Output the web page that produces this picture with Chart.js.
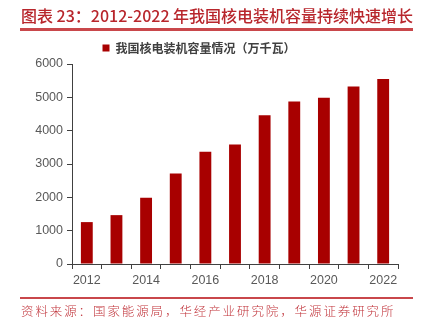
<!DOCTYPE html>
<html lang="zh">
<head>
    <meta charset="UTF-8">
    <title>核电装机容量</title>
    <style>
        body { margin: 0; width: 429px; height: 329px; background: #fff; position: relative; overflow: hidden; }
        .chart-box { position: absolute; left: 0; top: 0; width: 429px; height: 329px; }
        .title {
            position: absolute; left: 21px; top: 4px; height: 22px; z-index: 2;
            font-family: "Noto Sans CJK SC", sans-serif; font-size: 16px; font-weight: 500;
            color: #b8262c; white-space: nowrap; line-height: 22px;
        }
        .source {
            position: absolute; left: 21px; top: 302px; z-index: 2;
            font-family: "Noto Sans CJK SC", sans-serif; line-height: 18px;
            font-size: 12.5px; font-weight: 300; color: #c0333a; letter-spacing: 1.9px; white-space: nowrap;
        }
    </style>
    <script src="https://cdn.jsdelivr.net/npm/chart.js"></script>
</head>
<body>
    <div class="chart-box"><canvas id="barChart"></canvas></div>
    <div class="title">图表 23：2012-2022 年我国核电装机容量持续快速增长</div>
    <div class="source">资料来源：国家能源局，华经产业研究院，华源证券研究所</div>

    <script>
        // data
        const years = ['2012', '2013', '2014', '2015', '2016', '2017', '2018', '2019', '2020', '2021', '2022'];
        const capacity = [1257, 1466, 1988, 2717, 3364, 3582, 4466, 4874, 4989, 5326, 5553];
        const seriesName = '我国核电装机容量情况（万千瓦）';

        // red rules under the title and above the source line
        const rules = {
            id: 'rules',
            afterDraw(chart) {
                const c = chart.ctx;
                c.save();
                c.fillStyle = '#c9474b';
                c.fillRect(20, 28, 393, 3);
                c.fillRect(20, 297, 393, 2);
                c.restore();
            }
        };

        const ctx = document.getElementById('barChart').getContext('2d');
        new Chart(ctx, {
            type: 'bar',
            data: {
                labels: years,
                datasets: [{
                    label: seriesName,
                    data: capacity,
                    backgroundColor: '#a80000',
                    barPercentage: 0.8,
                    categoryPercentage: 0.5
                }]
            },
            plugins: [rules],
            options: {
                responsive: true,
                maintainAspectRatio: false,
                animation: false,
                layout: { padding: { left: 0, right: 31, top: 34, bottom: 37 } },
                plugins: {
                    legend: {
                        labels: {
                            boxWidth: 7, boxHeight: 7, padding: 8,
                            color: '#404040',
                            font: { family: '"Noto Sans CJK SC", sans-serif', size: 12, weight: 'bold' }
                        }
                    },
                    tooltip: { enabled: false }
                },
                scales: {
                    x: {
                        grid: { display: true, drawOnChartArea: false, tickLength: 5, color: '#404040', offset: true },
                        border: { color: '#404040', width: 1 },
                        ticks: {
                            autoSkip: false, maxRotation: 0, padding: 4, color: '#595959',
                            font: { family: '"Liberation Sans", Arial, sans-serif', size: 12.5 },
                            callback: function (val, i) { return i % 2 === 0 ? this.getLabelForValue(val) : ''; }
                        }
                    },
                    y: {
                        min: 0, max: 6000,
                        afterFit: function (scale) { scale.width = 72; },
                        grid: { display: true, drawOnChartArea: false, tickLength: 5, color: '#404040' },
                        border: { color: '#404040', width: 1 },
                        ticks: {
                            stepSize: 1000, padding: 4, color: '#595959',
                            font: { family: '"Liberation Sans", Arial, sans-serif', size: 12.5 },
                            callback: function (val) { return String(val); }
                        }
                    }
                }
            }
        });
    </script>
</body>
</html>
